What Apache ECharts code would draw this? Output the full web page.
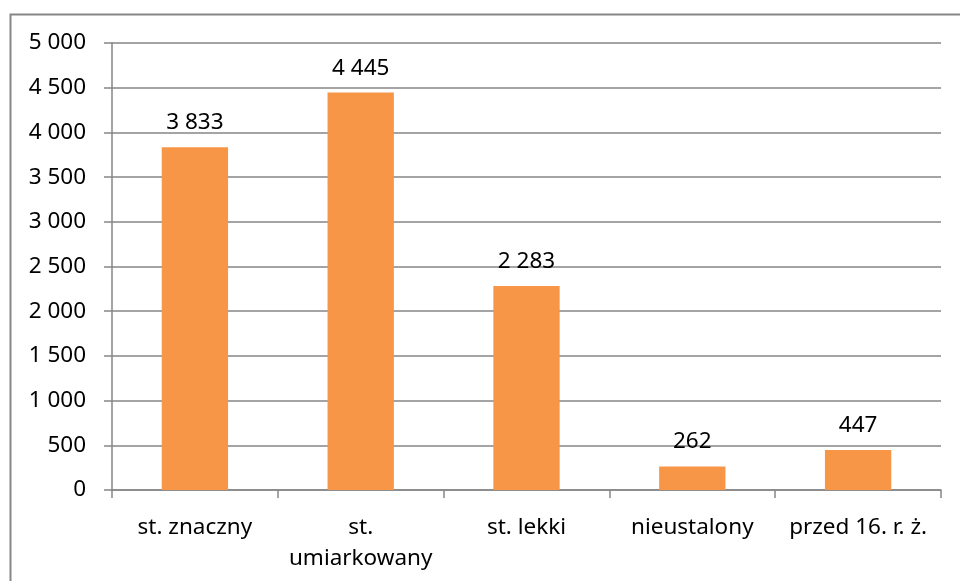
<!DOCTYPE html>
<html>
<head>
<meta charset="utf-8">
<script src="https://cdn.jsdelivr.net/npm/echarts@6/dist/echarts.min.js"></script>
<style>
  html, body { margin: 0; padding: 0; background: #fff; }
  #chart { width: 960px; height: 581px; }
</style>
</head>
<body>
<div id="chart"></div>
<script>
const categories = ['st. znaczny', 'st.\numiarkowany', 'st. lekki', 'nieustalony', 'przed 16. r. ż.'];
const values = [3833, 4445, 2283, 262, 447];

// format 4445 -> "4 445"
const fmt = (v) => String(v).replace(/\B(?=(\d{3})+(?!\d))/g, ' ');

const font = 'Noto Sans';
const fontSize = 22.5;
const chart = echarts.init(document.getElementById('chart'));
chart.setOption({
  animation: false,
  textStyle: { fontFamily: font },
  graphic: [
    {
      type: 'rect',
      shape: { x: 10.5, y: 14.5, width: 1200, height: 1000 },
      style: { fill: 'none', stroke: '#868686', lineWidth: 2 },
    },
  ],
  grid: {
    left: 112,
    right: 19,
    top: 43,
    bottom: 91,
    containLabel: false,
  },
  xAxis: {
    type: 'category',
    data: categories,
    axisLine: { lineStyle: { color: '#868686', width: 1.5 } },
    axisTick: { show: true, length: 8, lineStyle: { color: '#868686', width: 1.5 } },
    axisLabel: {
      color: '#000',
      fontSize: fontSize,
      fontFamily: font,
      margin: 22,
      lineHeight: 31,
      interval: 0,
    },
  },
  yAxis: {
    type: 'value',
    min: 0,
    max: 5000,
    interval: 500,
    axisLine: { show: true, lineStyle: { color: '#868686', width: 1.5 } },
    axisTick: { show: true, length: 8, lineStyle: { color: '#868686', width: 1.5 } },
    splitLine: { lineStyle: { color: '#868686', width: 1.5 } },
    axisLabel: {
      color: '#000',
      fontSize: fontSize,
      fontFamily: font,
      margin: 26,
      formatter: fmt,
    },
  },
  series: [
    {
      type: 'bar',
      data: values,
      barWidth: '40%',
      itemStyle: { color: '#F79646' },
      label: {
        show: true,
        position: 'top',
        distance: 13,
        color: '#000',
        fontSize: fontSize,
        fontFamily: font,
        formatter: (p) => fmt(p.value),
      },
    },
  ],
});
</script>
</body>
</html>
